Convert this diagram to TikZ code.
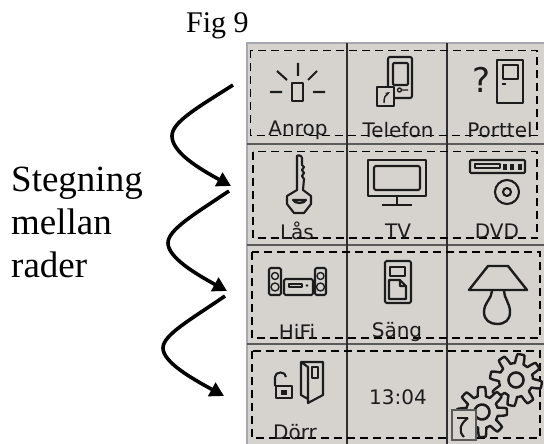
\documentclass[tikz,border=0pt]{standalone}
\usepackage{fontspec}
\setmainfont{Liberation Serif}
\newfontfamily\uifont{DejaVu Sans}
\usetikzlibrary{arrows.meta}
\definecolor{cellbg}{HTML}{D6D3CE}
\definecolor{ink}{HTML}{1C1C1C}
\definecolor{gridline}{HTML}{2E2E2E}
\definecolor{rowline}{HTML}{5A5A5A}
\definecolor{edgeline}{HTML}{A8A8B0}
\tikzset{
 cellbox/.style={fill=cellbg,inner sep=0pt,minimum width=#1,minimum height=100.5pt,anchor=north west},
 dashrow/.style={draw=black,line width=1.7pt,dash pattern=on 8pt off 5pt,fill=none},
 icon/.style={draw=ink,line width=2.1pt,line join=round},
 thin icon/.style={draw=ink,line width=1.4pt,line join=round},
 uilabel/.style={font=\uifont\fontsize{20}{20}\selectfont,text=ink,inner sep=0pt},
 bigtext/.style={font=\fontsize{37}{37}\selectfont,inner sep=0pt,anchor=base west},
 figtext/.style={font=\fontsize{30}{30}\selectfont,inner sep=0pt,anchor=base west},
 stepper/.style={draw=black,line width=3.6pt,-{Triangle[length=14pt,width=15pt]}},
 xdot/.style={fill=ink,draw=none}
}
\newcommand{\gearshape}[4]{%
 \begin{scope}[shift={(#1,#2)},rotate=#3]
 \draw[icon,fill=cellbg,line width=2.4pt] plot[samples=193,domain=0:360] ({\x}:{#4-4.5+4.5*max(-1,min(1,2.2*sin(8*\x)))}) -- cycle;
 \draw[icon,line width=2.6pt] (0,0) circle (7.5);
 \end{scope}}
\begin{document}
\begin{tikzpicture}[x=1pt,y=-1pt]
\useasboundingbox (0,0) rectangle (544,444);
% cells
\foreach \r/\y in {1/43,2/144,3/244.5,4/344}{
 \node[cellbox=100pt] (c\r a) at (247,\y) {};
 \node[cellbox=100pt] (c\r b) at (347,\y) {};
 \node[cellbox=100pt] (c\r c) at (447,\y) {};
}
% grid lines
\draw[edgeline,line width=1.2pt] (c1a.south west) -- (c1a.north west) -- (c1c.north east);
\draw[edgeline,line width=1.2pt] (c2a.north west) -- (c4a.south west);
\draw[rowline,line width=2pt] (c2a.north west) -- (c2c.north east);
\draw[rowline,line width=2pt] (c3a.north west) -- (c3c.north east);
\draw[rowline,line width=2pt] (c4a.north west) -- (c4c.north east);
\draw[gridline,line width=1.1pt] (c1b.north west) -- (c4b.south west);
\draw[gridline,line width=1.1pt] (c1c.north west) -- (c4c.south west);
% dashed selection rows
\draw[dashrow] (250.5,50.5) rectangle (537,135.5);
\draw[dashrow] (253,151.5) rectangle (537,238);
\draw[dashrow] (252,252) rectangle (540,338);
\draw[dashrow] (252,351) rectangle (540,438);
% Anrop
\draw[icon] (292,83) rectangle (303,101);
\draw[icon] (298,63)--(298,76) (277,71)--(287,80) (317,71)--(308,80) (270,92)--(282,92) (313,92)--(325,92);
% Telefon
\draw[icon,rounded corners=2pt] (388,57) rectangle (412,98);
\draw[icon,rounded corners=1pt] (393,63) rectangle (408,85);
\draw[thin icon] (399.5,90) circle (2) (402,90)--(408,90);
\draw[icon,fill=cellbg] (377,87) rectangle (394,106);
\draw[thin icon,-{Stealth[length=5pt]}] (384,103) .. controls (384,98) and (385,95) .. (390,92);
% Porttel
\node[font=\uifont\fontsize{34}{34}\selectfont,text=ink,inner sep=0pt] (q) at (482,80) {?};
\draw[icon] (497,60) rectangle (523,103);
\draw[icon] (503,65) rectangle (518,79);
\draw[icon] (502,84)--(506,84);
% Key
\draw[icon] (297,156) .. controls (297,155) and (302,155) .. (302,158) -- (302,165) -- (304,167) -- (302,170) -- (304,173) -- (302,176) -- (304,179) -- (303,190)
 -- (311,196) -- (311,204) -- (304,213) -- (294,213) -- (287,204) -- (287,196) -- (297,190) -- cycle;
\draw[icon] (293,200) -- (306,200) .. controls (305,204) and (294,204) .. (293,200) -- cycle;
% TV
\draw[icon] (368,160) rectangle (426,196);
\draw[icon,rounded corners=1.5pt] (374,166) rectangle (420,190);
\draw[icon] (397,196)--(397,204) (382,205)--(412,205);
% DVD
\draw[icon,rounded corners=1pt] (470,160) rectangle (525,173);
\draw[thin icon] (475,164) rectangle (500,168);
\foreach \dx in {505,512,520}{\fill[xdot] (\dx-2,164) rectangle (\dx+2,170);}
\draw[icon] (507,192) circle (12) (507,192) circle (4);
% HiFi
\draw[icon,rounded corners=1.5pt] (269,268) rectangle (281,295) (315,268) rectangle (326,295);
\draw[thin icon] (275,276) circle (3.5) (275,287) circle (4) (320.5,276) circle (3.5) (320.5,287) circle (4);
\draw[icon,rounded corners=1.5pt] (284,279) rectangle (313,295);
\draw[thin icon] (289,284) rectangle (302,287);
\fill[xdot] (307,285.5) circle (1.3);
% Sang
\draw[icon,rounded corners=1.5pt] (385,261) rectangle (411,303);
\draw[icon] (390,267) rectangle (405,276);
\draw[icon] (389,280) -- (400,280) -- (406,286) -- (406,299) -- (389,299) -- cycle (400,280) -- (400,286) -- (406,286);
% Lamp
\draw[icon,line width=2.4pt] (488,266) -- (508,266) -- (527,290) -- (469,290) -- cycle;
\draw[icon,line width=2.4pt] (492,291) .. controls (492,298) and (484,303) .. (484,312) .. controls (484,320) and (490,324) .. (497,324) .. controls (505,324) and (510,320) .. (510,312) .. controls (510,303) and (504,298) .. (504,291);
% Dorr
\draw[icon] (276,386) rectangle (292,398);
\fill[xdot] (281,390) rectangle (287,395);
\draw[icon] (275,386) -- (275,377) .. controls (275,371) and (286,371) .. (286,377);
\draw[icon] (301,362) -- (323,362) -- (323,395) -- (308,403) -- (308,367) -- (301,362) -- (301,395) -- (308,399);
\draw[icon] (312,367) rectangle (318,378);
% Gears
\gearshape{516}{380}{0}{26}
\gearshape{482}{412}{12}{25}
\draw[draw=rowline,line width=1.8pt,fill=cellbg] (452,410) rectangle (476,440);
\draw[icon] (457,418) -- (468,418);
\draw[icon] (464,437) .. controls (458,431) and (460,424) .. (468,418);
% labels
\node[uilabel] (l1) at (298,130) {Anrop};
\node[uilabel] (l2) at (398,130) {Telefon};
\node[uilabel] (l3) at (500,130) {Porttel};
\node[uilabel] (l4) at (297,231) {Lås};
\node[uilabel] (l5) at (398,231) {TV};
\node[uilabel] (l6) at (497,231) {DVD};
\node[uilabel] (l7) at (297,332) {HiFi};
\node[uilabel] (l8) at (397,332) {Säng};
\node[uilabel] (l9) at (295,432) {Dörr};
\node[uilabel] (l10) at (398,397) {13:04};
% left text
\node[figtext] (fig) at (186,33) {Fig 9};
\node[bigtext] (t1) at (11,191) {Stegning};
\node[bigtext] (t2) at (11,234) {mellan};
\node[bigtext] (t3) at (11,277) {rader};
% stepping arrows
\coordinate (a1s) at (233,85); \coordinate (a1e) at (231,186);
\coordinate (a2s) at (229,191); \coordinate (a2e) at (227,291);
\coordinate (a3s) at (225,296); \coordinate (a3e) at (224,396);
\draw[stepper] (a1s) .. controls (197,108) and (172,122) .. (172,136) .. controls (172,152) and (198,168) .. (a1e);
\draw[stepper] (a2s) .. controls (193,215) and (168,230) .. (168,243) .. controls (168,257) and (194,273) .. (a2e);
\draw[stepper] (a3s) .. controls (190,320) and (163,335) .. (163,348) .. controls (163,362) and (191,378) .. (a3e);
\end{tikzpicture}
\end{document}
